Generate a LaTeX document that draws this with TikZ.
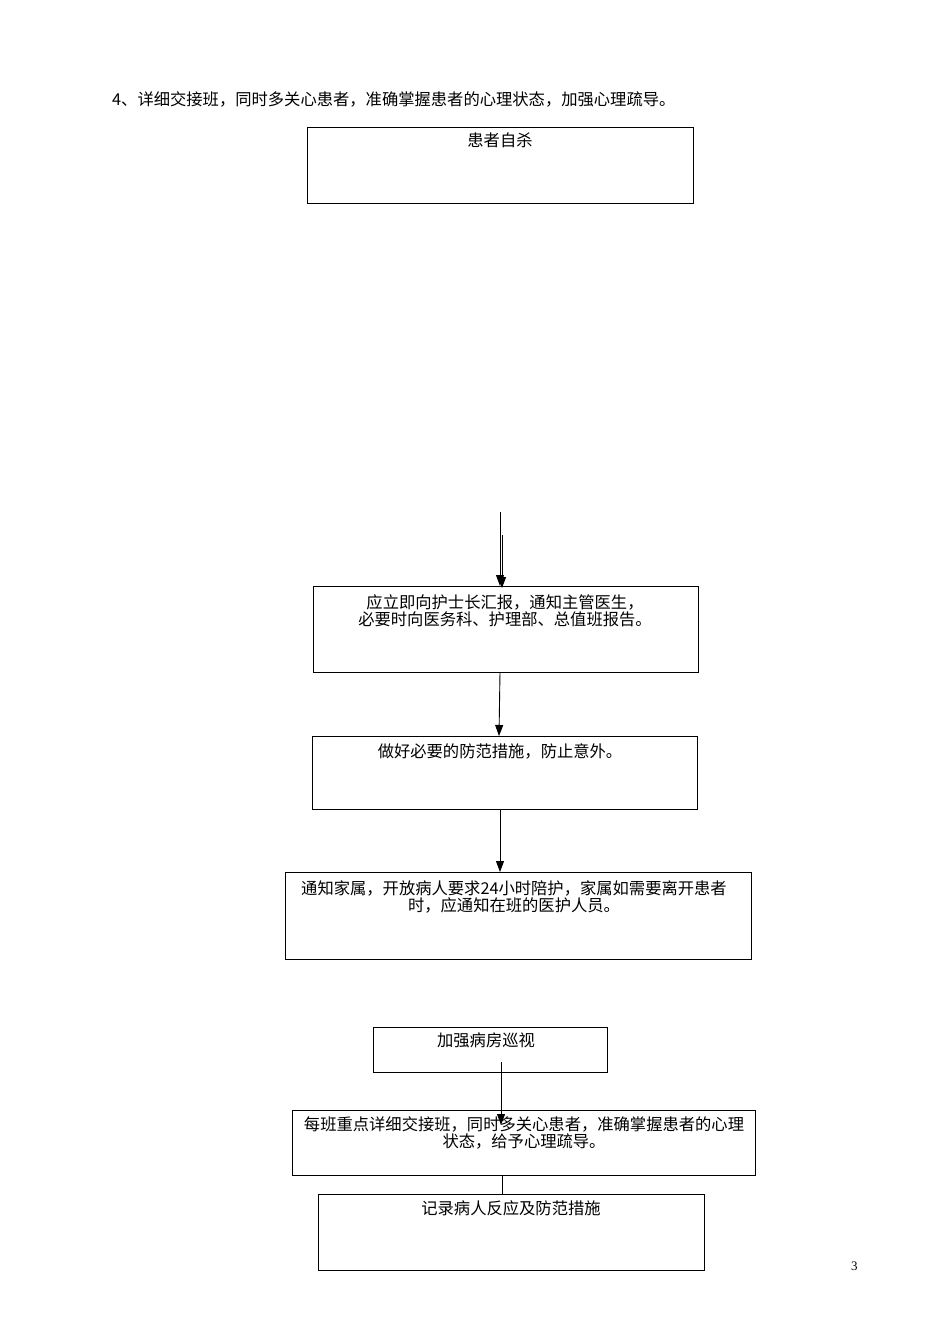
\documentclass[tikz,border=0pt]{standalone}
\usepackage{fontspec}
\usetikzlibrary{arrows.meta}
\setmainfont{Liberation Serif}
\newfontfamily\cjk{Noto Sans CJK SC}
\begin{document}
\begin{tikzpicture}[x=1pt,y=-1pt,
  box/.style={draw,line width=0.9pt},
  txt/.style={font=\cjk\fontsize{16.3}{17.5}\selectfont,align=center,inner sep=0pt,anchor=north},
  arr/.style={line width=0.9pt,-{Triangle[length=11pt,width=8pt]}}]
\useasboundingbox (0,0) rectangle (950,1344);
\node[txt,anchor=north west] (hdr) at (112,91) {4、详细交接班，同时多关心患者，准确掌握患者的心理状态，加强心理疏导。};
\draw[box] (307,127) rectangle (693,203); \node[txt] (t1) at (500,133) {患者自杀};
\draw[box] (313,586) rectangle (698,672); \node[txt] (t2) at (505,594) {应立即向护士长汇报，通知主管医生，\\必要时向医务科、护理部、总值班报告。};
\draw[box] (312,736) rectangle (697,809); \node[txt] (t3) at (500,743) {做好必要的防范措施，防止意外。};
\draw[box] (285,872) rectangle (751,959); \node[txt] (t4) at (514,880) {通知家属，开放病人要求24小时陪护，家属如需要离开患者\\时，应通知在班的医护人员。};
\draw[box] (373,1027) rectangle (607,1072); \node[txt] (t5) at (486,1033) {加强病房巡视};
\draw[box] (292,1110) rectangle (755,1175); \node[txt] (t6) at (524,1116) {每班重点详细交接班，同时多关心患者，准确掌握患者的心理\\状态，给予心理疏导。};
\draw[box] (318,1194) rectangle (704,1270); \node[txt] (t7) at (511,1200) {记录病人反应及防范措施};
\node[font=\fontsize{13}{15}\selectfont,anchor=north west,inner sep=0pt] (pg) at (851,1262) {3};
\coordinate (a1) at (500,512); \coordinate (a1e) at (500,586);
\coordinate (a2) at (502,535); \coordinate (a2e) at (502,588);
\draw[arr] (a1) -- (a1e); \draw[arr] (a2) -- (a2e);
\coordinate (b1) at (500,672); \coordinate (b1e) at (499,736); \draw[arr] (b1) -- (b1e);
\coordinate (c1) at (500,809); \coordinate (c1e) at (500,872); \draw[arr] (c1) -- (c1e);
\coordinate (d1) at (501,1062); \coordinate (d1e) at (501,1125); \draw[arr] (d1) -- (d1e);
\coordinate (e1) at (502,1175); \coordinate (e1e) at (502,1194); \draw[line width=0.9pt] (e1) -- (e1e);
\end{tikzpicture}
\end{document}
